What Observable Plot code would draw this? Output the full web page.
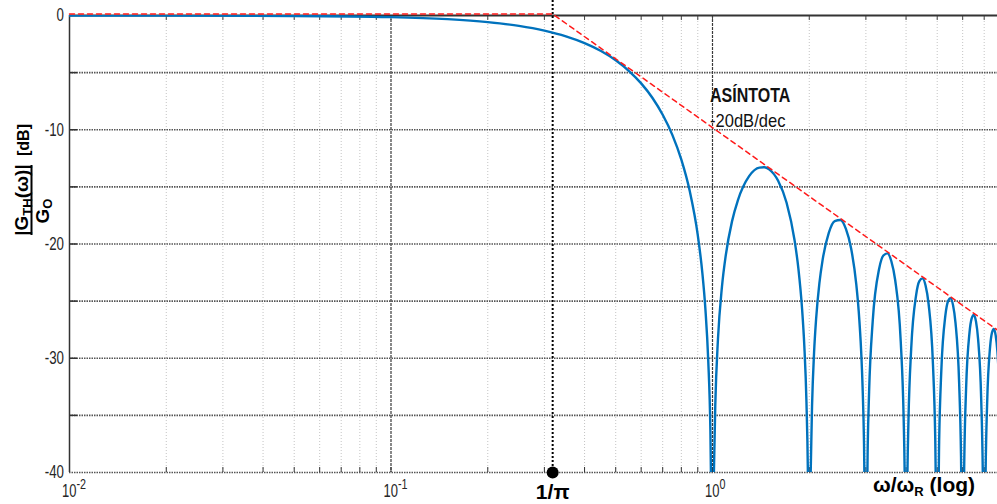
<!DOCTYPE html>
<html><head><meta charset="utf-8">
<script src="https://cdn.jsdelivr.net/npm/d3@7"></script>
<script src="https://cdn.jsdelivr.net/npm/@observablehq/plot@0.6"></script>
<style>
html,body{margin:0;padding:0;background:#fff;}
#chart{width:997px;height:504px;overflow:hidden;}
svg{display:block;font-family:"Liberation Sans",Arial,sans-serif;}
</style></head><body><div id="chart"></div>
<script>
// Main lobe
const mainFreq = [0.01,0.02,0.05,0.1,0.15,0.2,0.25,0.3,0.35,0.4,0.45,0.5,0.55,0.6,0.65,0.7,0.75,0.8,0.85,0.9,0.93,0.95,0.97,0.985,0.995];
const mainGainDb = [0,-0.01,-0.04,-0.14,-0.32,-0.58,-0.91,-1.33,-1.83,-2.42,-3.11,-3.92,-4.86,-5.94,-7.2,-8.69,-10.45,-12.62,-15.39,-19.23,-22.54,-25.61,-30.2,-36.35,-45.98];
// Side lobes
const sideFreq = [1.01,1.02,1.04,1.07,1.1,1.15,1.2,1.3,1.4,1.45,1.5,1.6,1.7,1.8,1.85,1.9,1.93,1.96,1.98,1.99,
  2.02,2.04,2.07,2.1,2.15,2.2,2.3,2.4,2.5,2.6,2.7,2.8,2.85,2.9,2.93,2.96,2.98,
  3.02,3.04,3.07,3.15,3.3,3.4,3.5,3.6,3.7,3.85,3.93,3.96,3.98,
  4.02,4.04,4.07,4.15,4.3,4.4,4.5,4.6,4.7,4.85,4.93,4.96,
  5.04,5.07,5.15,5.3,5.4,5.5,5.6,5.7,5.85,5.93,5.96,
  6.04,6.07,6.15,6.3,6.4,6.5,6.6,6.7,6.85,6.93,6.96,
  7.04,7.07,7.15,7.3,7.4,7.5,7.6,7.7,7.8];
const sideGainDb = [-40.09,-34.16,-28.32,-23.76,-20.97,-18.02,-16.15,-14.06,-13.31,-13.28,-13.47,-14.47,-16.39,-19.67,-22.15,-25.72,-28.88,-33.83,-39.92,-45.98,
  -40.09,-34.18,-29.49,-26.59,-23.45,-21.41,-19.02,-17.99,-17.9,-18.68,-20.41,-23.51,-25.9,-29.39,-32.51,-37.41,-43.47,
  -43.58,-37.64,-32.92,-26.77,-22.15,-21.01,-20.82,-21.51,-23.15,-28.51,-35.06,-39.94,-45.98,
  -46.07,-40.11,-35.37,-29.16,-24.45,-23.25,-23.01,-23.64,-25.23,-30.52,-37.03,-41.89,
  -42.03,-37.27,-31.04,-26.27,-25.03,-24.75,-25.35,-26.9,-32.15,-38.63,-43.49,
  -43.6,-38.84,-32.58,-27.77,-26.51,-26.2,-26.77,-28.3,-33.52,-39.99,-44.84,
  -44.93,-40.16,-33.89,-29.05,-27.77,-27.44,-28,-29.51,-32.41];
// Asymptote
const asymFreq = [0.01, 0.3183, 7.7];
const asymGainDb = [0, 0, -27.67];
const cornerFreq = 0.3183;
const cornerLabel = "1/π";
// Axes
const yTickValues = [0,-10,-20,-30,-40];
const yGridValues = [-5,-10,-15,-20,-25,-30,-35];
const decadeTicks = [0.01,0.1,1];
const decadeExponents = ["-2","-1","0"];
const minorTicks = [0.02,0.03,0.04,0.05,0.06,0.07,0.08,0.09,0.2,0.3,0.4,0.5,0.6,0.7,0.8,0.9,2,3,4,5,6,7];
// Annotation
const annotationText = ["ASÍNTOTA","-20dB/dec"];
const annotationFreq = [1,1];
const annotationGainDb = [-7.0,-9.3];

const curveData = mainFreq.map((f,i)=>({f, g: mainGainDb[i], part:"main"}))
  .concat(sideFreq.map((f,i)=>({f, g: sideGainDb[i], part:"side"})));
const asymData = asymFreq.map((f,i)=>({f, g: asymGainDb[i]}));
const allTicks = minorTicks.concat(decadeTicks);

const W = 997, H = 504, mL = 69, mR = 0, mT = 15, mB = 32;
const fh = H - mT - mB, fw = W - mL - mR;

const chart = Plot.plot({
  width: W, height: H,
  marginLeft: mL, marginRight: mR, marginTop: mT, marginBottom: mB,
  x: {type: "log", domain: [0.01, 7.7], axis: null},
  y: {domain: [-40, 0], axis: null},
  marks: [
    Plot.ruleX(minorTicks, {stroke: "#c4c4c4", strokeDasharray: "1,2", strokeWidth: 1}),
    Plot.ruleY(yGridValues.concat([-40]), {stroke: "#555", strokeDasharray: "1.5,1", strokeWidth: 1.6}),
    Plot.ruleX(decadeTicks.slice(1), {stroke: "#3a3a3a", strokeWidth: 1.2, strokeDasharray: "3,1"}),
    Plot.tickX(allTicks, {x: d=>d, insetTop: fh - 5, stroke: "#333", strokeWidth: 1}),
    Plot.tickX(allTicks, {x: d=>d, insetBottom: fh - 5, stroke: "#444", strokeWidth: 1}),
    Plot.tickY(yGridValues, {y: d=>d, insetRight: fw - 8, stroke: "#333", strokeWidth: 1.5}),
    Plot.ruleX([0.01], {stroke: "#333", strokeWidth: 1.5}),
    Plot.ruleY([0], {stroke: "#333", strokeWidth: 2}),
    Plot.ruleX([cornerFreq], {stroke: "#000", strokeWidth: 2, strokeDasharray: "2,2", insetTop: -mT}),
    Plot.line(curveData, {x: "f", y: "g", z: "part", stroke: "#0072BD", strokeWidth: 2.4, curve: "monotone-x", clip: true}),
    Plot.line(asymData, {x: "f", y: "g", stroke: "#ff1a1a", strokeWidth: 1.5, strokeDasharray: "5,4", dy: -1.5}),
    Plot.dot([{f: cornerFreq, g: -40}], {x: "f", y: "g", r: 6, fill: "#000", stroke: "none"}),
    Plot.text([cornerLabel], {x: ()=>cornerFreq, y: ()=>-40, text: d=>d, dy: 20, fontSize: 21, fontWeight: "bold", fill: "#000"})
  ]
});
document.getElementById("chart").appendChild(chart);

const svg = d3.select(chart);
const xs = chart.scale("x"), ys = chart.scale("y");
const fam = '"Liberation Sans", Arial, sans-serif';
const g = svg.append("g").attr("fill", "#262626").attr("font-family", fam);
yTickValues.forEach(v => {
  g.append("text")
    .attr("transform", `translate(64,${ys.apply(v)}) scale(0.74,1)`)
    .attr("text-anchor", "end").attr("dominant-baseline", "central")
    .attr("font-size", 18).text(String(v));
});
decadeTicks.forEach((v, i) => {
  const t = g.append("text")
    .attr("transform", `translate(${xs.apply(v) - 7},497) scale(0.72,1)`)
    .attr("text-anchor", "start")
    .attr("font-size", 18);
  t.append("tspan").text("10");
  t.append("tspan").attr("font-size", 15).attr("dy", -8).text(decadeExponents[i]);
});

// annotation
annotationText.forEach((txt, i) => {
  svg.append("text")
    .attr("transform", `translate(${xs.apply(annotationFreq[i]) - 2},${ys.apply(annotationGainDb[i])}) scale(${i === 0 ? 0.8 : 0.92},1)`)
    .attr("text-anchor", "start")
    .attr("dominant-baseline", "central")
    .attr("font-family", fam).attr("font-size", i === 0 ? 20 : 18)
    .attr("font-weight", i === 0 ? "bold" : "normal").attr("fill", "#111")
    .text(txt);
});

// x axis label
const xl = svg.append("text").attr("x", 873).attr("y", 492)
  .attr("text-anchor", "start")
  .attr("font-family", fam).attr("font-weight", "bold").attr("font-size", 21).attr("fill", "#000");
xl.append("tspan").text("ω/ω");
xl.append("tspan").attr("font-size", 13).attr("dy", 4).text("R");
xl.append("tspan").attr("dy", -4).text(" (log)");

// y axis label
const yl = svg.append("g").attr("font-family", fam).attr("font-weight", "bold").attr("fill", "#000");
const t1 = yl.append("text").attr("transform", "translate(28,200) rotate(-90)").attr("text-anchor", "middle").attr("font-size", 19);
t1.append("tspan").text("|G");
t1.append("tspan").attr("font-size", 13).attr("dy", 4).text("TH");
t1.append("tspan").attr("dy", -4).text("(ω)|");
yl.append("path").attr("d", "M31.5,165V235").attr("stroke", "#000").attr("stroke-width", 2);
const t2 = yl.append("text").attr("transform", "translate(49,211) rotate(-90)").attr("text-anchor", "middle").attr("font-size", 19);
t2.append("tspan").text("G");
t2.append("tspan").attr("font-size", 13).attr("dy", 3).text("O");
yl.append("text").attr("transform", "translate(29,140) rotate(-90)").attr("text-anchor", "middle").attr("font-size", 16).text("[dB]");
</script></body></html>
